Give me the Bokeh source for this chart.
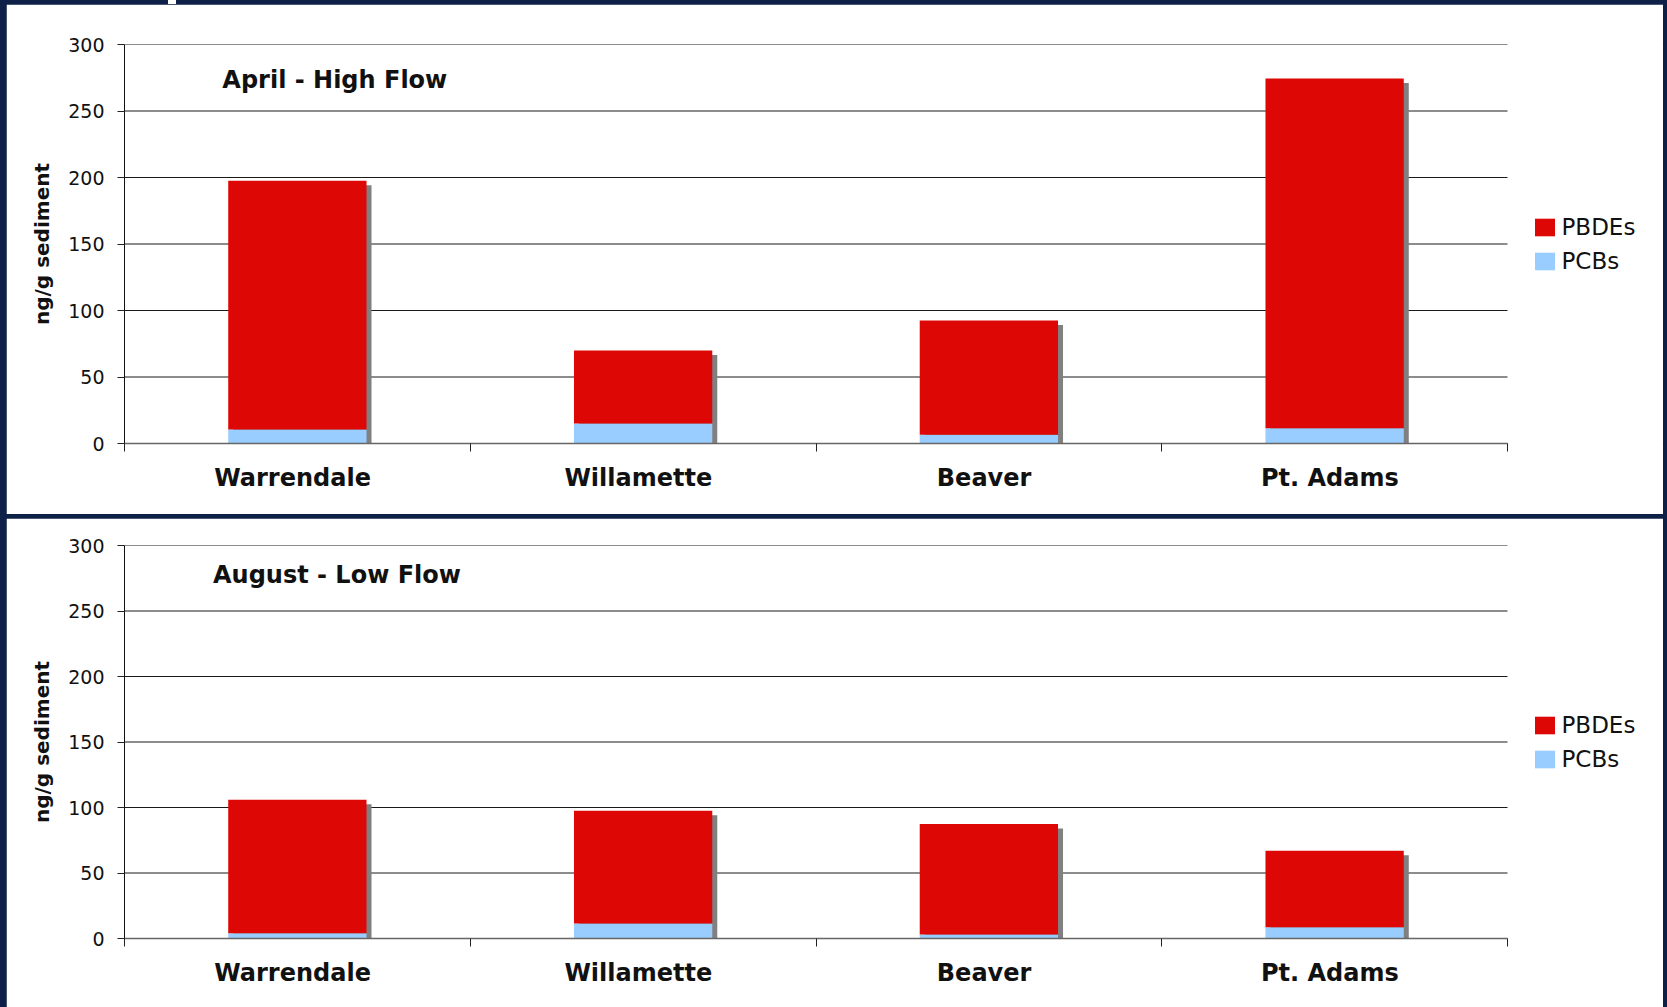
from bokeh.plotting import figure
from bokeh.models import Range1d, FixedTicker, Legend, LegendItem, Label, ColumnDataSource, Spacer
from bokeh.layouts import column, row
from bokeh.transform import dodge
from bokeh.embed import file_html
from bokeh.resources import INLINE

# ---- data ----
sites = ["Warrendale", "Willamette", "Beaver", "Pt. Adams"]
april_pcbs = [10.5, 15.0, 6.5, 11.5]
april_pbdes = [187.0, 55.0, 86.0, 263.0]
august_pcbs = [4.0, 11.5, 3.0, 8.5]
august_pbdes = [102.0, 86.0, 84.5, 58.5]
y_ticks = [0, 50, 100, 150, 200, 250, 300]
panel_titles = ["April - High Flow", "August - Low Flow"]
series_names = ["PBDEs", "PCBs"]
y_axis_label = "ng/g sediment"

RED = "#DD0806"
BLUE = "#99CCFF"
SHADOW = "#808080"
NAVY = "#0c2048"
FONT = "DejaVu Sans"

CANVAS_W = 1657
LEFT = 118
RIGHT = 0
DATA_W = 1383          # pixels spanned by the four categories
FRAME_W = CANVAS_W - LEFT - RIGHT


def make_panel(title, pcbs, pbdes, height, top, bottom, title_x, title_y, margin):
    n = len(sites)
    unit_px = DATA_W / n
    xs = [i + 0.5 for i in range(n)]
    label_pos = [x - 4.8 / unit_px for x in xs]   # Excel draws the names a touch left of centre
    totals = [a + b for a, b in zip(pcbs, pbdes)]
    frame_h = height - top - bottom
    px_per_unit = frame_h / 300.0
    shadow_dy = 4.5 / px_per_unit
    shadow_dx = 5.0 / unit_px
    x_end = n * FRAME_W / DATA_W
    src = ColumnDataSource(dict(x=xs, pcbs=pcbs, pbdes=pbdes,
                                shadow_top=[t - shadow_dy for t in totals]))

    p = figure(width=CANVAS_W, height=height, x_range=Range1d(0, x_end), y_range=Range1d(0, 300),
               output_backend="svg", toolbar_location=None,
               min_border_left=LEFT, min_border_right=RIGHT,
               min_border_top=top, min_border_bottom=bottom,
               outline_line_color="white", outline_line_alpha=1.0, outline_line_width=1)
    p.margin = margin
    p.background_fill_color = "white"
    p.border_fill_color = "white"
    p.grid.visible = False

    # horizontal gridlines limited to the category area
    p.segment(x0=0, x1=n, y0=y_ticks, y1=y_ticks, line_color="#1a1a1a", line_width=1)

    # shadow
    p.vbar(x=dodge("x", shadow_dx), top="shadow_top", bottom=0, width=0.4,
           source=src, fill_color=SHADOW, line_color=None)
    rs = p.vbar_stack(["pcbs", "pbdes"], x="x", width=0.4, color=[BLUE, RED],
                      line_color=None, source=src)

    # y axis
    ya = p.yaxis[0]
    ya.ticker = FixedTicker(ticks=y_ticks, minor_ticks=[])
    ya.axis_line_color = "#111111"
    ya.major_tick_line_color = "#222222"
    ya.major_tick_in = 0
    ya.major_tick_out = 7
    ya.minor_tick_line_color = None
    ya.major_label_standoff = 13
    ya.major_label_text_font = FONT
    ya.major_label_text_font_size = "19px"
    ya.major_label_text_color = "#111111"
    ya.axis_label = y_axis_label
    ya.axis_label_text_font = FONT
    ya.axis_label_text_font_size = "20px"
    ya.axis_label_text_font_style = "bold"
    ya.axis_label_text_color = "#111111"
    ya.axis_label_standoff = 11

    # x axis
    xa = p.xaxis[0]
    xa.bounds = (0, n)
    xa.ticker = FixedTicker(ticks=label_pos, minor_ticks=list(range(n + 1)))
    xa.major_label_overrides = {x: s for x, s in zip(label_pos, sites)}
    xa.axis_line_color = "#666666"
    xa.axis_line_width = 1.5
    xa.major_tick_line_color = None
    xa.major_tick_in = 0
    xa.major_tick_out = 0
    xa.minor_tick_line_color = "#222222"
    xa.minor_tick_in = 0
    xa.minor_tick_out = 8
    xa.major_label_standoff = 12
    xa.major_label_text_font = FONT
    xa.major_label_text_font_size = "24px"
    xa.major_label_text_font_style = "bold"
    xa.major_label_text_color = "#111111"

    # title inside the plot
    p.add_layout(Label(x=title_x, y=title_y, text=title, text_font=FONT,
                       text_font_size="24px", text_font_style="bold",
                       text_color="#111111", text_baseline="alphabetic"))

    # legend to the right of the category area
    items = [LegendItem(label=series_names[0], renderers=[rs[1]]),
             LegendItem(label=series_names[1], renderers=[rs[0]])]
    leg_h = 30 + 4 + 30
    legend = Legend(items=items, location=(DATA_W + 27 - 2.5, (frame_h - leg_h) / 2.0),
                    glyph_width=25, glyph_height=22, label_height=30, spacing=4,
                    label_standoff=5, padding=0, margin=0,
                    label_text_font=FONT, label_text_font_size="23px",
                    label_text_color="#111111",
                    border_line_color=None, background_fill_alpha=0)
    p.add_layout(legend)
    return p


p1 = make_panel(panel_titles[0], april_pcbs, april_pbdes, 510, 40, 71, 0.283, 273.0, (0, 4, 0, 6))
p2 = make_panel(panel_titles[1], august_pcbs, august_pbdes, 489, 27, 69, 0.256, 277.4, (4, 4, 0, 6))

# thin navy bar across the top with a small white notch
top_bar = row(Spacer(width=168, height=4),
              Spacer(width=8, height=4, styles={"background-color": "white"}),
              Spacer(width=1491, height=4), spacing=0)

page = column(top_bar, p1, p2, spacing=0, styles={"background-color": NAVY})

open("out.html", "w").write(file_html(page, INLINE))
